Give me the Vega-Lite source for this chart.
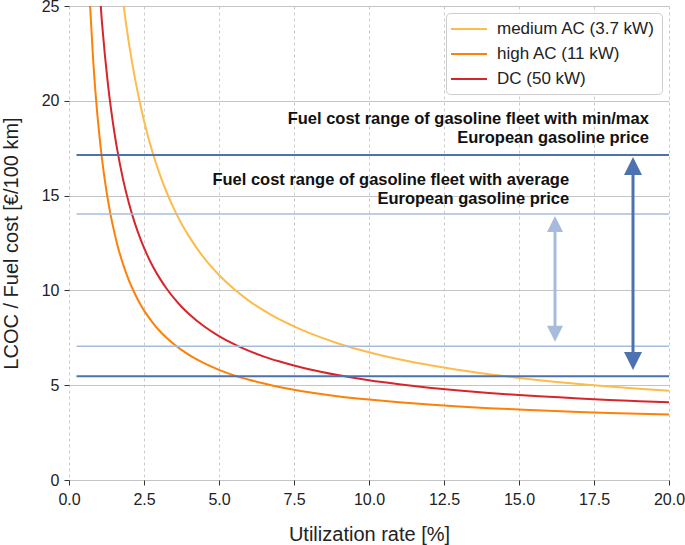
{
  "$schema": "https://vega.github.io/schema/vega-lite/v6.json",
  "width": 600,
  "height": 474,
  "autosize": {"type": "none"},
  "padding": {"left": 69, "top": 6, "right": 16, "bottom": 65},
  "background": "white",
  "config": {
    "font": "Liberation Sans",
    "view": {"stroke": null},
    "axis": {
      "labelFont": "Liberation Sans",
      "titleFont": "Liberation Sans",
      "labelFontSize": 16,
      "titleFontSize": 20,
      "titleFontWeight": "normal",
      "labelColor": "#222222",
      "titleColor": "#222222",
      "tickColor": "#333333",
      "tickSize": 5,
      "domain": false
    }
  },
  "datasets": {
    "curves": [
      {"u": 1.6, "c": 28.11, "s": "medium AC (3.7 kW)"},
      {"u": 1.8, "c": 25.28, "s": "medium AC (3.7 kW)"},
      {"u": 2.0, "c": 23.02, "s": "medium AC (3.7 kW)"},
      {"u": 2.2, "c": 21.17, "s": "medium AC (3.7 kW)"},
      {"u": 2.4, "c": 19.63, "s": "medium AC (3.7 kW)"},
      {"u": 2.6, "c": 18.32, "s": "medium AC (3.7 kW)"},
      {"u": 2.8, "c": 17.21, "s": "medium AC (3.7 kW)"},
      {"u": 3.0, "c": 16.24, "s": "medium AC (3.7 kW)"},
      {"u": 3.25, "c": 15.19, "s": "medium AC (3.7 kW)"},
      {"u": 3.5, "c": 14.30, "s": "medium AC (3.7 kW)"},
      {"u": 3.75, "c": 13.52, "s": "medium AC (3.7 kW)"},
      {"u": 4.0, "c": 12.85, "s": "medium AC (3.7 kW)"},
      {"u": 4.5, "c": 11.71, "s": "medium AC (3.7 kW)"},
      {"u": 5.0, "c": 10.81, "s": "medium AC (3.7 kW)"},
      {"u": 5.5, "c": 10.07, "s": "medium AC (3.7 kW)"},
      {"u": 6.0, "c": 9.45, "s": "medium AC (3.7 kW)"},
      {"u": 6.5, "c": 8.93, "s": "medium AC (3.7 kW)"},
      {"u": 7.0, "c": 8.48, "s": "medium AC (3.7 kW)"},
      {"u": 7.5, "c": 8.10, "s": "medium AC (3.7 kW)"},
      {"u": 8.0, "c": 7.76, "s": "medium AC (3.7 kW)"},
      {"u": 9.0, "c": 7.19, "s": "medium AC (3.7 kW)"},
      {"u": 10.0, "c": 6.74, "s": "medium AC (3.7 kW)"},
      {"u": 11.0, "c": 6.37, "s": "medium AC (3.7 kW)"},
      {"u": 12.0, "c": 6.06, "s": "medium AC (3.7 kW)"},
      {"u": 13.0, "c": 5.80, "s": "medium AC (3.7 kW)"},
      {"u": 14.0, "c": 5.58, "s": "medium AC (3.7 kW)"},
      {"u": 15.0, "c": 5.38, "s": "medium AC (3.7 kW)"},
      {"u": 16.0, "c": 5.21, "s": "medium AC (3.7 kW)"},
      {"u": 17.0, "c": 5.06, "s": "medium AC (3.7 kW)"},
      {"u": 18.0, "c": 4.93, "s": "medium AC (3.7 kW)"},
      {"u": 19.0, "c": 4.81, "s": "medium AC (3.7 kW)"},
      {"u": 20.0, "c": 4.71, "s": "medium AC (3.7 kW)"},
      {"u": 0.6, "c": 28.84, "s": "high AC (11 kW)"},
      {"u": 0.7, "c": 25.10, "s": "high AC (11 kW)"},
      {"u": 0.8, "c": 22.30, "s": "high AC (11 kW)"},
      {"u": 0.9, "c": 20.11, "s": "high AC (11 kW)"},
      {"u": 1.0, "c": 18.37, "s": "high AC (11 kW)"},
      {"u": 1.1, "c": 16.94, "s": "high AC (11 kW)"},
      {"u": 1.2, "c": 15.75, "s": "high AC (11 kW)"},
      {"u": 1.3, "c": 14.75, "s": "high AC (11 kW)"},
      {"u": 1.4, "c": 13.88, "s": "high AC (11 kW)"},
      {"u": 1.5, "c": 13.14, "s": "high AC (11 kW)"},
      {"u": 1.6, "c": 12.48, "s": "high AC (11 kW)"},
      {"u": 1.8, "c": 11.39, "s": "high AC (11 kW)"},
      {"u": 2.0, "c": 10.52, "s": "high AC (11 kW)"},
      {"u": 2.2, "c": 9.81, "s": "high AC (11 kW)"},
      {"u": 2.4, "c": 9.21, "s": "high AC (11 kW)"},
      {"u": 2.6, "c": 8.71, "s": "high AC (11 kW)"},
      {"u": 2.8, "c": 8.28, "s": "high AC (11 kW)"},
      {"u": 3.0, "c": 7.90, "s": "high AC (11 kW)"},
      {"u": 3.25, "c": 7.50, "s": "high AC (11 kW)"},
      {"u": 3.5, "c": 7.16, "s": "high AC (11 kW)"},
      {"u": 3.75, "c": 6.86, "s": "high AC (11 kW)"},
      {"u": 4.0, "c": 6.60, "s": "high AC (11 kW)"},
      {"u": 4.5, "c": 6.16, "s": "high AC (11 kW)"},
      {"u": 5.0, "c": 5.81, "s": "high AC (11 kW)"},
      {"u": 5.5, "c": 5.52, "s": "high AC (11 kW)"},
      {"u": 6.0, "c": 5.29, "s": "high AC (11 kW)"},
      {"u": 6.5, "c": 5.09, "s": "high AC (11 kW)"},
      {"u": 7.0, "c": 4.91, "s": "high AC (11 kW)"},
      {"u": 7.5, "c": 4.76, "s": "high AC (11 kW)"},
      {"u": 8.0, "c": 4.63, "s": "high AC (11 kW)"},
      {"u": 9.0, "c": 4.41, "s": "high AC (11 kW)"},
      {"u": 10.0, "c": 4.24, "s": "high AC (11 kW)"},
      {"u": 11.0, "c": 4.10, "s": "high AC (11 kW)"},
      {"u": 12.0, "c": 3.98, "s": "high AC (11 kW)"},
      {"u": 13.0, "c": 3.88, "s": "high AC (11 kW)"},
      {"u": 14.0, "c": 3.79, "s": "high AC (11 kW)"},
      {"u": 15.0, "c": 3.72, "s": "high AC (11 kW)"},
      {"u": 16.0, "c": 3.65, "s": "high AC (11 kW)"},
      {"u": 17.0, "c": 3.59, "s": "high AC (11 kW)"},
      {"u": 18.0, "c": 3.54, "s": "high AC (11 kW)"},
      {"u": 19.0, "c": 3.50, "s": "high AC (11 kW)"},
      {"u": 20.0, "c": 3.46, "s": "high AC (11 kW)"},
      {"u": 0.9, "c": 28.82, "s": "DC (50 kW)"},
      {"u": 1.0, "c": 26.23, "s": "DC (50 kW)"},
      {"u": 1.1, "c": 24.11, "s": "DC (50 kW)"},
      {"u": 1.2, "c": 22.35, "s": "DC (50 kW)"},
      {"u": 1.3, "c": 20.85, "s": "DC (50 kW)"},
      {"u": 1.4, "c": 19.57, "s": "DC (50 kW)"},
      {"u": 1.5, "c": 18.46, "s": "DC (50 kW)"},
      {"u": 1.6, "c": 17.49, "s": "DC (50 kW)"},
      {"u": 1.8, "c": 15.87, "s": "DC (50 kW)"},
      {"u": 2.0, "c": 14.58, "s": "DC (50 kW)"},
      {"u": 2.2, "c": 13.52, "s": "DC (50 kW)"},
      {"u": 2.4, "c": 12.64, "s": "DC (50 kW)"},
      {"u": 2.6, "c": 11.89, "s": "DC (50 kW)"},
      {"u": 2.8, "c": 11.25, "s": "DC (50 kW)"},
      {"u": 3.0, "c": 10.70, "s": "DC (50 kW)"},
      {"u": 3.25, "c": 10.10, "s": "DC (50 kW)"},
      {"u": 3.5, "c": 9.59, "s": "DC (50 kW)"},
      {"u": 3.75, "c": 9.14, "s": "DC (50 kW)"},
      {"u": 4.0, "c": 8.76, "s": "DC (50 kW)"},
      {"u": 4.5, "c": 8.11, "s": "DC (50 kW)"},
      {"u": 5.0, "c": 7.59, "s": "DC (50 kW)"},
      {"u": 5.5, "c": 7.17, "s": "DC (50 kW)"},
      {"u": 6.0, "c": 6.81, "s": "DC (50 kW)"},
      {"u": 6.5, "c": 6.51, "s": "DC (50 kW)"},
      {"u": 7.0, "c": 6.26, "s": "DC (50 kW)"},
      {"u": 7.5, "c": 6.04, "s": "DC (50 kW)"},
      {"u": 8.0, "c": 5.84, "s": "DC (50 kW)"},
      {"u": 9.0, "c": 5.52, "s": "DC (50 kW)"},
      {"u": 10.0, "c": 5.26, "s": "DC (50 kW)"},
      {"u": 11.0, "c": 5.05, "s": "DC (50 kW)"},
      {"u": 12.0, "c": 4.87, "s": "DC (50 kW)"},
      {"u": 13.0, "c": 4.72, "s": "DC (50 kW)"},
      {"u": 14.0, "c": 4.59, "s": "DC (50 kW)"},
      {"u": 15.0, "c": 4.48, "s": "DC (50 kW)"},
      {"u": 16.0, "c": 4.39, "s": "DC (50 kW)"},
      {"u": 17.0, "c": 4.30, "s": "DC (50 kW)"},
      {"u": 18.0, "c": 4.22, "s": "DC (50 kW)"},
      {"u": 19.0, "c": 4.16, "s": "DC (50 kW)"},
      {"u": 20.0, "c": 4.10, "s": "DC (50 kW)"}
    ],
    "hlines": [
      {"x1": 0.25, "x2": 20, "y": 17.14, "kind": "minmax"},
      {"x1": 0.25, "x2": 20, "y": 5.47, "kind": "minmax"},
      {"x1": 0.25, "x2": 20, "y": 14.03, "kind": "average"},
      {"x1": 0.25, "x2": 20, "y": 7.05, "kind": "average"}
    ],
    "arrows": [
      {"x": 18.8, "y1": 6.28, "y2": 16.56, "kind": "minmax"},
      {"x": 16.2, "y1": 7.72, "y2": 13.5, "kind": "average"}
    ],
    "heads": [
      {"x": 18.8, "y": 16.56, "dir": "up", "kind": "minmax"},
      {"x": 18.8, "y": 6.28, "dir": "down", "kind": "minmax"},
      {"x": 16.2, "y": 13.5, "dir": "up", "kind": "average"},
      {"x": 16.2, "y": 7.72, "dir": "down", "kind": "average"}
    ],
    "labels": [
      {"x": 19.33, "y": 19.04, "t": "Fuel cost range of gasoline fleet with min/max"},
      {"x": 19.33, "y": 18.04, "t": "European gasoline price"},
      {"x": 16.67, "y": 15.82, "t": "Fuel cost range of gasoline fleet with average"},
      {"x": 16.67, "y": 14.82, "t": "European gasoline price"}
    ]
  },
  "layer": [
    {
      "data": {"name": "curves"},
      "mark": {"type": "line", "strokeWidth": 2, "clip": true, "interpolate": "monotone"},
      "encoding": {
        "x": {
          "field": "u", "type": "quantitative",
          "scale": {"domain": [0, 20], "nice": false, "zero": false},
          "axis": {
            "title": "Utilization rate [%]",
            "values": [0, 2.5, 5, 7.5, 10, 12.5, 15, 17.5, 20],
            "format": ".1f",
            "gridDash": [3, 3],
            "gridColor": "#cccccc",
            "labelPadding": 6,
            "titlePadding": 17,
            "labelFlush": false
          }
        },
        "y": {
          "field": "c", "type": "quantitative",
          "scale": {"domain": [0, 25], "nice": false},
          "axis": {
            "title": "LCOC / Fuel cost [€/100 km]",
            "values": [0, 5, 10, 15, 20, 25],
            "gridColor": "#c4c4c4",
            "labelPadding": 5,
            "titlePadding": 20,
            "labelFlush": false
          }
        },
        "color": {
          "field": "s", "type": "nominal",
          "scale": {
            "domain": ["medium AC (3.7 kW)", "high AC (11 kW)", "DC (50 kW)"],
            "range": ["#fdbc4b", "#fd8108", "#d7262b"]
          },
          "legend": {
            "title": null,
            "orient": "top-right",
            "offset": 7,
            "padding": 7,
            "strokeColor": "#cccccc",
            "fillColor": "white",
            "cornerRadius": 4,
            "symbolType": "M-2.25,0H2.25",
            "symbolSize": 256,
            "symbolStrokeWidth": 2,
            "symbolOffset": 7,
            "labelFontSize": 17,
            "labelFont": "Liberation Sans",
            "labelColor": "#222222",
            "rowPadding": 8,
            "labelOffset": 19
          }
        }
      }
    },
    {
      "data": {"name": "hlines"},
      "mark": {"type": "rule"},
      "encoding": {
        "x": {"field": "x1", "type": "quantitative"},
        "x2": {"field": "x2"},
        "y": {"field": "y", "type": "quantitative"},
        "color": {"field": "kind", "type": "nominal", "scale": {"domain": ["minmax", "average"], "range": ["#4c72b0", "#a7bcdd"]}, "legend": null},
        "strokeWidth": {"field": "kind", "type": "nominal", "scale": {"domain": ["minmax", "average"], "range": [2, 1.5]}, "legend": null}
      }
    },
    {
      "data": {"name": "arrows"},
      "mark": {"type": "rule", "strokeWidth": 3},
      "encoding": {
        "x": {"field": "x", "type": "quantitative"},
        "y": {"field": "y1", "type": "quantitative"},
        "y2": {"field": "y2"},
        "color": {"field": "kind", "type": "nominal", "scale": {"domain": ["minmax", "average"], "range": ["#4c72b0", "#a7bcdd"]}, "legend": null}
      }
    },
    {
      "data": {"name": "heads"},
      "mark": {"type": "point", "filled": true, "opacity": 1, "strokeWidth": 0},
      "encoding": {
        "x": {"field": "x", "type": "quantitative"},
        "y": {"field": "y", "type": "quantitative"},
        "shape": {"field": "dir", "type": "nominal", "scale": {"domain": ["up", "down"], "range": ["M0,-1L1,1L-1,1Z", "M0,1L1,-1L-1,-1Z"]}, "legend": null},
        "size": {"field": "kind", "type": "nominal", "scale": {"domain": ["minmax", "average"], "range": [324, 256]}, "legend": null},
        "color": {"field": "kind", "type": "nominal", "scale": {"domain": ["minmax", "average"], "range": ["#4c72b0", "#a7bcdd"]}, "legend": null}
      }
    },
    {
      "data": {"name": "labels"},
      "mark": {"type": "text", "align": "right", "baseline": "middle", "fontSize": 16.5, "fontWeight": "bold", "font": "Liberation Sans", "color": "#111111"},
      "encoding": {
        "x": {"field": "x", "type": "quantitative"},
        "y": {"field": "y", "type": "quantitative"},
        "text": {"field": "t"}
      }
    }
  ],
  "resolve": {"scale": {"color": "independent"}}
}
